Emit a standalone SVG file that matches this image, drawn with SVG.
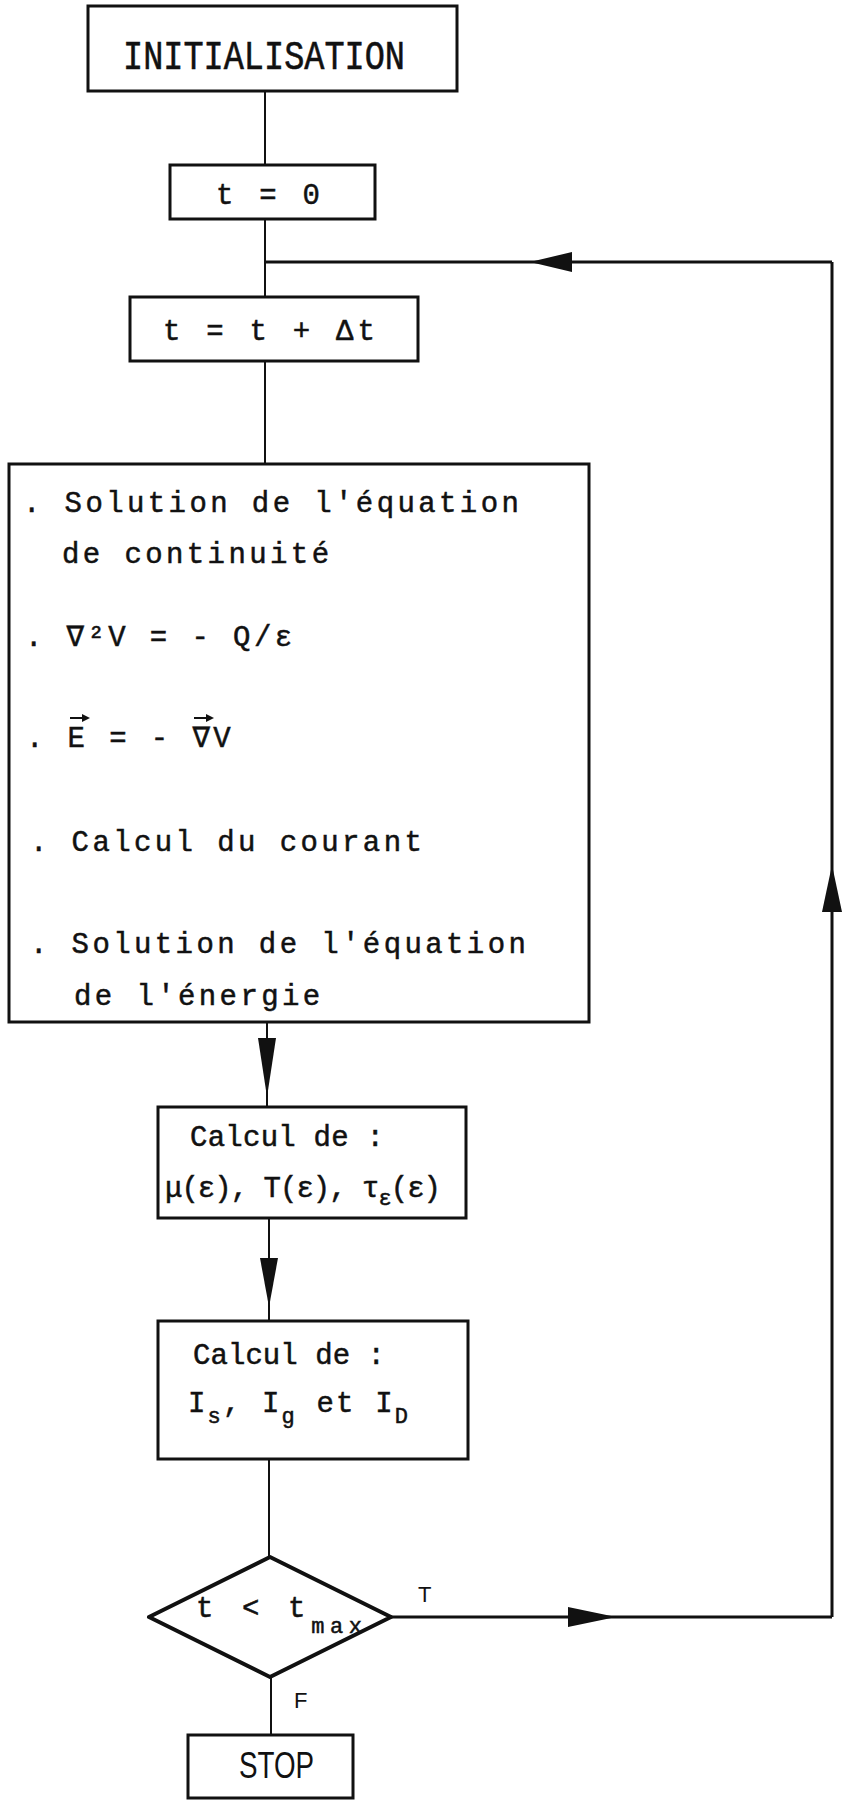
<svg xmlns="http://www.w3.org/2000/svg" width="847" height="1805" viewBox="0 0 847 1805">
<style>
.box{fill:none;stroke:#111;stroke-width:3}
.dia{fill:none;stroke:#111;stroke-width:4;stroke-linejoin:round}
.ln{fill:none;stroke:#111;stroke-width:2}
.lnb{fill:none;stroke:#111;stroke-width:3}
.ah{fill:#111;stroke:none}
.t{font-family:"Liberation Mono","DejaVu Sans Mono",monospace;font-size:29px;fill:#111;stroke:#111;stroke-width:0.5}
.ls{letter-spacing:3.4px}
.sub{font-size:22px}
.lbl{font-family:"Liberation Sans",Arial,sans-serif;font-size:22px;fill:#111}
</style>
<rect width="847" height="1805" fill="#fff"/>
<g id="connectors">
<line class="ln" x1="265" y1="92" x2="265" y2="165"/>
<line class="ln" x1="265" y1="219" x2="265" y2="297"/>
<line class="lnb" x1="265" y1="262" x2="832" y2="262"/>
<polygon class="ah" points="530,262 572,252 572,272"/>
<line class="ln" x1="265" y1="362" x2="265" y2="464"/>
<line class="ln" x1="267" y1="1022" x2="267" y2="1107"/>
<polygon class="ah" points="267,1097 258,1038 276,1038"/>
<line class="ln" x1="269" y1="1218" x2="269" y2="1321"/>
<polygon class="ah" points="269,1307 260,1258 278,1258"/>
<line class="ln" x1="269" y1="1459" x2="269" y2="1559"/>
<line class="lnb" x1="391" y1="1617" x2="832" y2="1617"/>
<polygon class="ah" points="616,1617 568,1607 568,1627"/>
<line class="lnb" x1="832" y1="1617" x2="832" y2="262"/>
<polygon class="ah" points="832,865 822,912 842,912"/>
<line class="ln" x1="271" y1="1678" x2="271" y2="1735"/>
<text class="lbl" x="418" y="1602">T</text>
<text class="lbl" x="294" y="1708">F</text>
</g>
<g id="init">
<rect class="box" x="88" y="6" width="369" height="85"/>
<text x="123" y="69" font-family="Liberation Mono,monospace" font-size="41" fill="#111" stroke="#111" stroke-width="0.6" textLength="282" lengthAdjust="spacingAndGlyphs">INITIALISATION</text>
</g>
<g id="t0">
<rect class="box" x="170" y="165" width="205" height="54"/>
<text class="t" x="216" y="204" textLength="104" lengthAdjust="spacing">t = 0</text>
</g>
<g id="tinc">
<rect class="box" x="130" y="297" width="288" height="64"/>
<text class="t" x="163" y="340" textLength="212" lengthAdjust="spacing">t = t + Δt</text>
</g>
<g id="solve">
<rect class="box" x="9" y="464" width="580" height="558"/>
<text class="t ls" x="23" y="512">. Solution de l'équation</text>
<text class="t ls" x="62" y="563">de continuité</text>
<text class="t ls" x="25" y="646">. ∇²V = - Q/ε</text>
<text class="t ls" x="26" y="747">. E = - ∇V</text>
<path class="ln" d="M70 718 H84" />
<polygon class="ah" points="90,718 82,714 82,722"/>
<path class="ln" d="M194 718 H208" />
<polygon class="ah" points="214,718 206,714 206,722"/>
<text class="t ls" x="30" y="851">. Calcul du courant</text>
<text class="t ls" x="30" y="953">. Solution de l'équation</text>
<text class="t ls" x="74" y="1005">de l'énergie</text>
</g>
<g id="calc1">
<rect class="box" x="158" y="1107" width="308" height="111"/>
<text class="t" x="190" y="1146" textLength="194" lengthAdjust="spacing">Calcul de :</text>
<text class="t" x="165" y="1197" textLength="276" lengthAdjust="spacing">μ(ε), T(ε), τ<tspan class="sub" dy="8">ε</tspan><tspan dy="-8">(ε)</tspan></text>
</g>
<g id="calc2">
<rect class="box" x="158" y="1321" width="310" height="138"/>
<text class="t" x="193" y="1364" textLength="192" lengthAdjust="spacing">Calcul de :</text>
<text class="t" x="188" y="1412" textLength="220" lengthAdjust="spacing">I<tspan class="sub" dy="11">s</tspan><tspan dy="-11">, I</tspan><tspan class="sub" dy="11">g</tspan><tspan dy="-11"> et I</tspan><tspan class="sub" dy="11">D</tspan></text>
</g>
<g id="test">
<polygon class="dia" points="149,1617 270,1557 391,1617 270,1677"/>
<text class="t" x="196" y="1617" textLength="166" lengthAdjust="spacing">t &lt; t<tspan class="sub" dy="16">max</tspan></text>
</g>
<g id="stop">
<rect class="box" x="188" y="1735" width="165" height="63"/>
<text x="239" y="1778" font-family="Liberation Sans,Arial,sans-serif" font-size="36" fill="#111" textLength="75" lengthAdjust="spacingAndGlyphs">STOP</text>
</g>
</svg>
